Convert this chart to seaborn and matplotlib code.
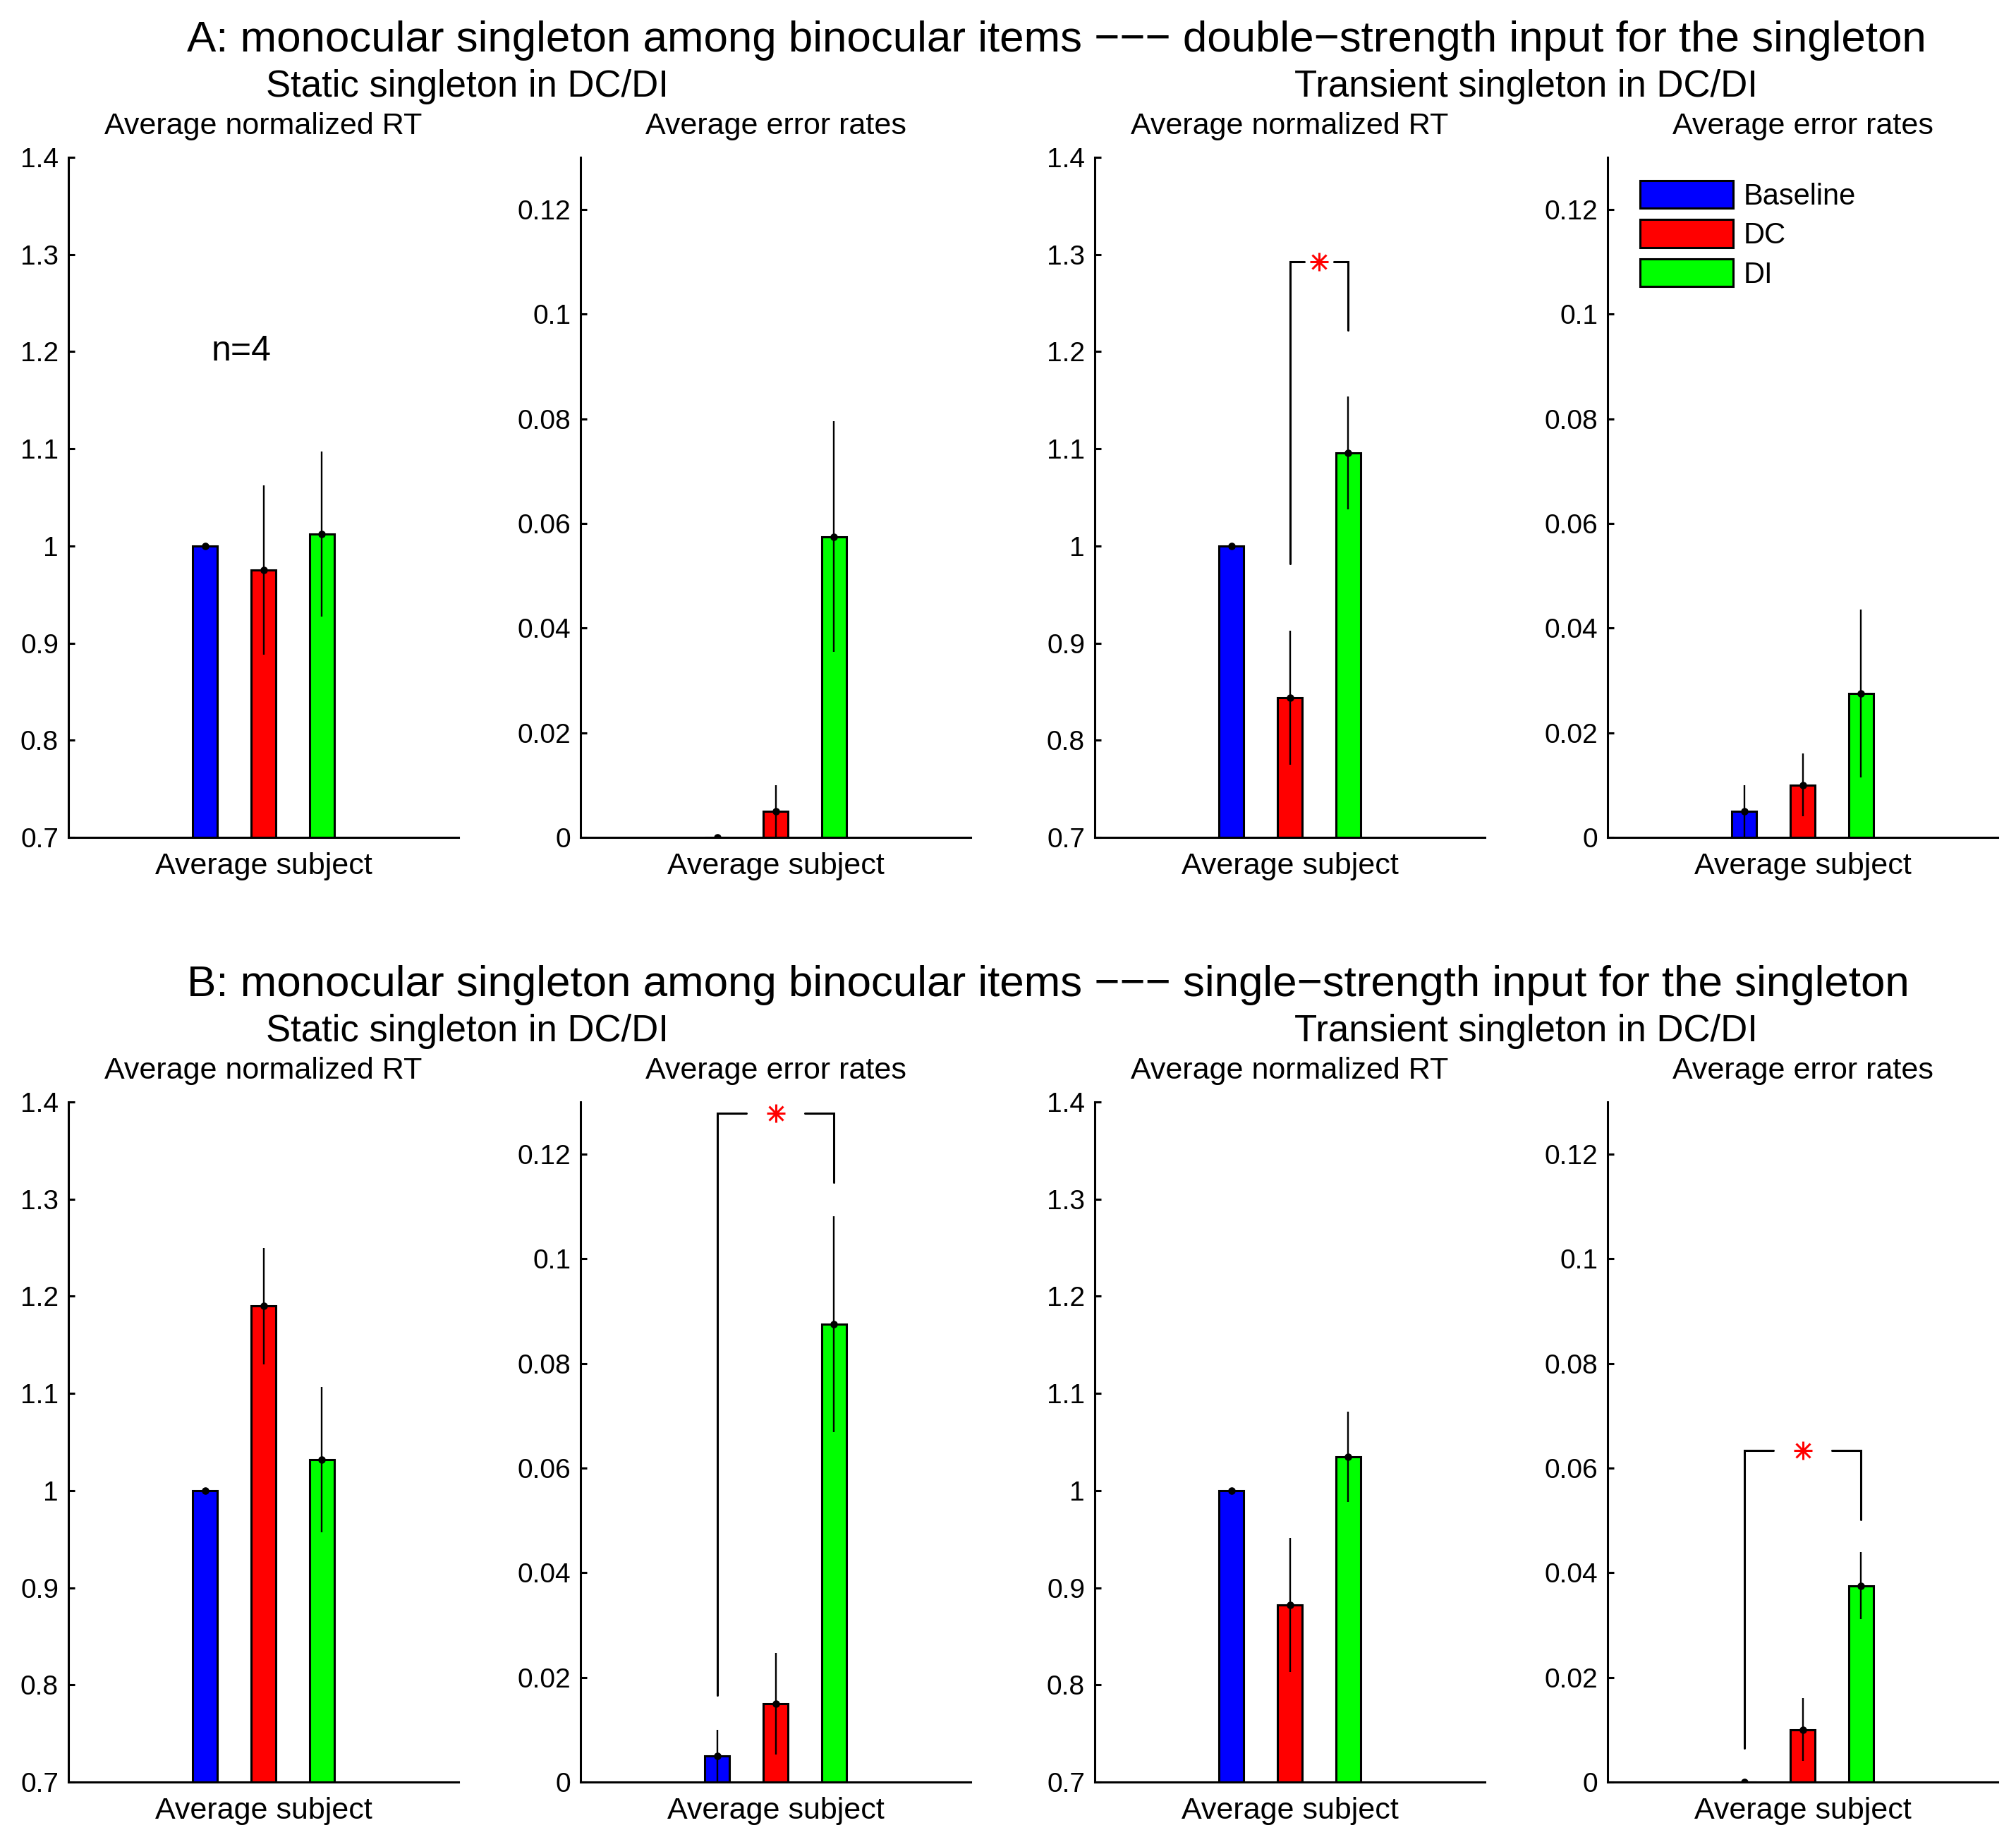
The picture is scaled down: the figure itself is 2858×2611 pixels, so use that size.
import numpy as np
import pandas as pd
import matplotlib
matplotlib.use('Agg')
import matplotlib.pyplot as plt
import seaborn as sns

# ---------------- data ----------------
conditions = ['Baseline', 'DC', 'DI']
colors = ['#0000ff', '#ff0000', '#00ff00']
subject_label = 'Average subject'

# Row A: double-strength input
a_static_rt = [1.000, 0.975, 1.012]
a_static_rt_err = [0.0, 0.087, 0.085]
a_static_er = [0.0, 0.005, 0.0575]
a_static_er_err = [0.0, 0.005, 0.022]
a_trans_rt = [1.000, 0.844, 1.096]
a_trans_rt_err = [0.0, 0.069, 0.058]
a_trans_er = [0.005, 0.010, 0.0275]
a_trans_er_err = [0.005, 0.006, 0.016]

# Row B: single-strength input
b_static_rt = [1.000, 1.190, 1.032]
b_static_rt_err = [0.0, 0.060, 0.075]
b_static_er = [0.005, 0.015, 0.0875]
b_static_er_err = [0.005, 0.0097, 0.0206]
b_trans_rt = [1.000, 0.882, 1.035]
b_trans_rt_err = [0.0, 0.069, 0.0465]
b_trans_er = [0.0, 0.010, 0.0375]
b_trans_er_err = [0.0, 0.006, 0.0064]

# significance brackets: (bar i, bar j, y left end, y top, y right end)
a_trans_rt_bracket = (1, 2, 0.982, 1.2925, 1.222)
b_static_er_bracket = (0, 2, 0.0166, 0.1278, 0.1146)
b_trans_er_bracket = (0, 2, 0.0065, 0.0634, 0.0502)

rt_ticks = [0.7, 0.8, 0.9, 1.0, 1.1, 1.2, 1.3, 1.4]
rt_ticklabels = ['0.7', '0.8', '0.9', '1', '1.1', '1.2', '1.3', '1.4']
er_ticks = [0, 0.02, 0.04, 0.06, 0.08, 0.10, 0.12]
er_ticklabels = ['0', '0.02', '0.04', '0.06', '0.08', '0.1', '0.12']

row_titles = ['A: monocular singleton among binocular items \u2212\u2212\u2212 double\u2212strength input for the singleton',
              'B: monocular singleton among binocular items \u2212\u2212\u2212 single\u2212strength input for the singleton']
group_titles = ['Static singleton in DC/DI', 'Transient singleton in DC/DI']
panel_titles = ['Average normalized RT', 'Average error rates']
n_label = 'n=4'

# ---------------- style ----------------
sns.set_style('white')
plt.rcParams['font.family'] = ['Liberation Sans', 'DejaVu Sans']
plt.rcParams['axes.linewidth'] = 1.1
plt.rcParams['text.color'] = 'black'
plt.rcParams['axes.labelcolor'] = 'black'
plt.rcParams['axes.titlecolor'] = 'black'
plt.rcParams['xtick.color'] = 'black'
plt.rcParams['ytick.color'] = 'black'
plt.rcParams['xtick.labelcolor'] = 'black'
plt.rcParams['ytick.labelcolor'] = 'black'

W, H = 2858, 2611
DPI = 200
fig = plt.figure(figsize=(W / DPI, H / DPI), dpi=DPI)

col_left_px = [97, 823, 1552, 2279]
ax_w_px = 553
ax_h_px = 964
row_top_px = [223, 1562]
row_shift_px = row_top_px[1] - row_top_px[0]


def draw_panel(ax, values, errs, kind, bracket=None):
    df = pd.DataFrame({'subject': [subject_label] * 3,
                       'condition': conditions,
                       'value': values})
    sns.barplot(data=df, x='subject', y='value', hue='condition',
                hue_order=conditions, palette=colors, width=0.45, gap=0.58,
                edgecolor='black', linewidth=1.1, errorbar=None,
                legend=False, ax=ax, saturation=1)
    bars = sorted(ax.patches[:3], key=lambda p: p.get_x())
    xs = [p.get_x() + p.get_width() / 2 for p in bars]
    ax.errorbar(xs, values, yerr=errs, fmt='o', color='black', ms=2.8,
                elinewidth=0.85, capsize=0, zorder=5)
    ax.set_xlim(-0.5, 0.5)
    if kind == 'rt':
        ax.set_ylim(0.7, 1.4)
        ax.set_yticks(rt_ticks)
        ax.set_yticklabels(rt_ticklabels)
        ax.set_title(panel_titles[0], fontsize=15.5, pad=12, color='black')
    else:
        ax.set_ylim(0, 0.13)
        ax.set_yticks(er_ticks)
        ax.set_yticklabels(er_ticklabels)
        ax.set_title(panel_titles[1], fontsize=15.5, pad=12, color='black')
    ax.set_xlabel('')
    ax.set_ylabel('')
    ax.tick_params(axis='y', direction='in', length=3.4, width=1.1,
                   pad=5, labelsize=14, left=True, colors='black')
    ax.tick_params(axis='x', length=0, pad=7.5, labelsize=15.5, colors='black')
    for s in ['top', 'right']:
        ax.spines[s].set_visible(False)
    for s in ['left', 'bottom']:
        ax.spines[s].set_linewidth(1.1)
        ax.spines[s].set_color('black')
    if bracket is not None:
        i, j, yl, yt, yr = bracket
        x0, x1 = xs[i], xs[j]
        span = x1 - x0
        g0, g1 = x0 + 0.25 * span, x0 + 0.75 * span
        ax.plot([x0, x0, g0], [yl, yt, yt], color='black', lw=1.1,
                solid_joinstyle='miter', clip_on=False)
        ax.plot([g1, x1, x1], [yt, yt, yr], color='black', lw=1.1,
                solid_joinstyle='miter', clip_on=False)
        xm = x0 + 0.5 * span
        ax.plot([xm], [yt], marker='+', ms=9.7, mew=1.1, color='red',
                clip_on=False)
        ax.plot([xm], [yt], marker='x', ms=7.0, mew=1.1, color='red',
                clip_on=False)
    return bars


panels = [
    [(a_static_rt, a_static_rt_err, 'rt', None),
     (a_static_er, a_static_er_err, 'er', None),
     (a_trans_rt, a_trans_rt_err, 'rt', a_trans_rt_bracket),
     (a_trans_er, a_trans_er_err, 'er', None)],
    [(b_static_rt, b_static_rt_err, 'rt', None),
     (b_static_er, b_static_er_err, 'er', b_static_er_bracket),
     (b_trans_rt, b_trans_rt_err, 'rt', None),
     (b_trans_er, b_trans_er_err, 'er', b_trans_er_bracket)],
]

axes = {}
for r in range(2):
    for c in range(4):
        left = col_left_px[c] / W
        bottom = 1 - (row_top_px[r] + ax_h_px) / H
        ax = fig.add_axes([left, bottom, ax_w_px / W, ax_h_px / H])
        vals, errs, kind, br = panels[r][c]
        bars = draw_panel(ax, vals, errs, kind, br)
        axes[(r, c)] = (ax, bars)

# n=4 annotation
ax0, _ = axes[(0, 0)]
ax0.text(-0.057, 1.2, n_label, fontsize=18, ha='center', va='center', color='black')

# legend
ax3, bars3 = axes[(0, 3)]
ax3.legend(handles=bars3, labels=conditions, loc='upper left',
           bbox_to_anchor=(2325 / W, 1 - 256 / H), bbox_transform=fig.transFigure,
           frameon=False, fontsize=15, handlelength=3.17, handleheight=1.08,
           labelspacing=0.3, handletextpad=0.36, borderpad=0, borderaxespad=0)

# row titles and group titles
for r in range(2):
    y_title = 1 - (73 + r * row_shift_px) / H
    fig.text(265 / W, y_title, row_titles[r], fontsize=22.3, ha='left', va='baseline', color='black')
    y_sub = 1 - (137 + r * row_shift_px) / H
    fig.text(377 / W, y_sub, group_titles[0], fontsize=19, ha='left', va='baseline', color='black')
    fig.text(1835 / W, y_sub, group_titles[1], fontsize=19, ha='left', va='baseline', color='black')

fig.savefig('out.png', dpi=DPI, facecolor='white')
